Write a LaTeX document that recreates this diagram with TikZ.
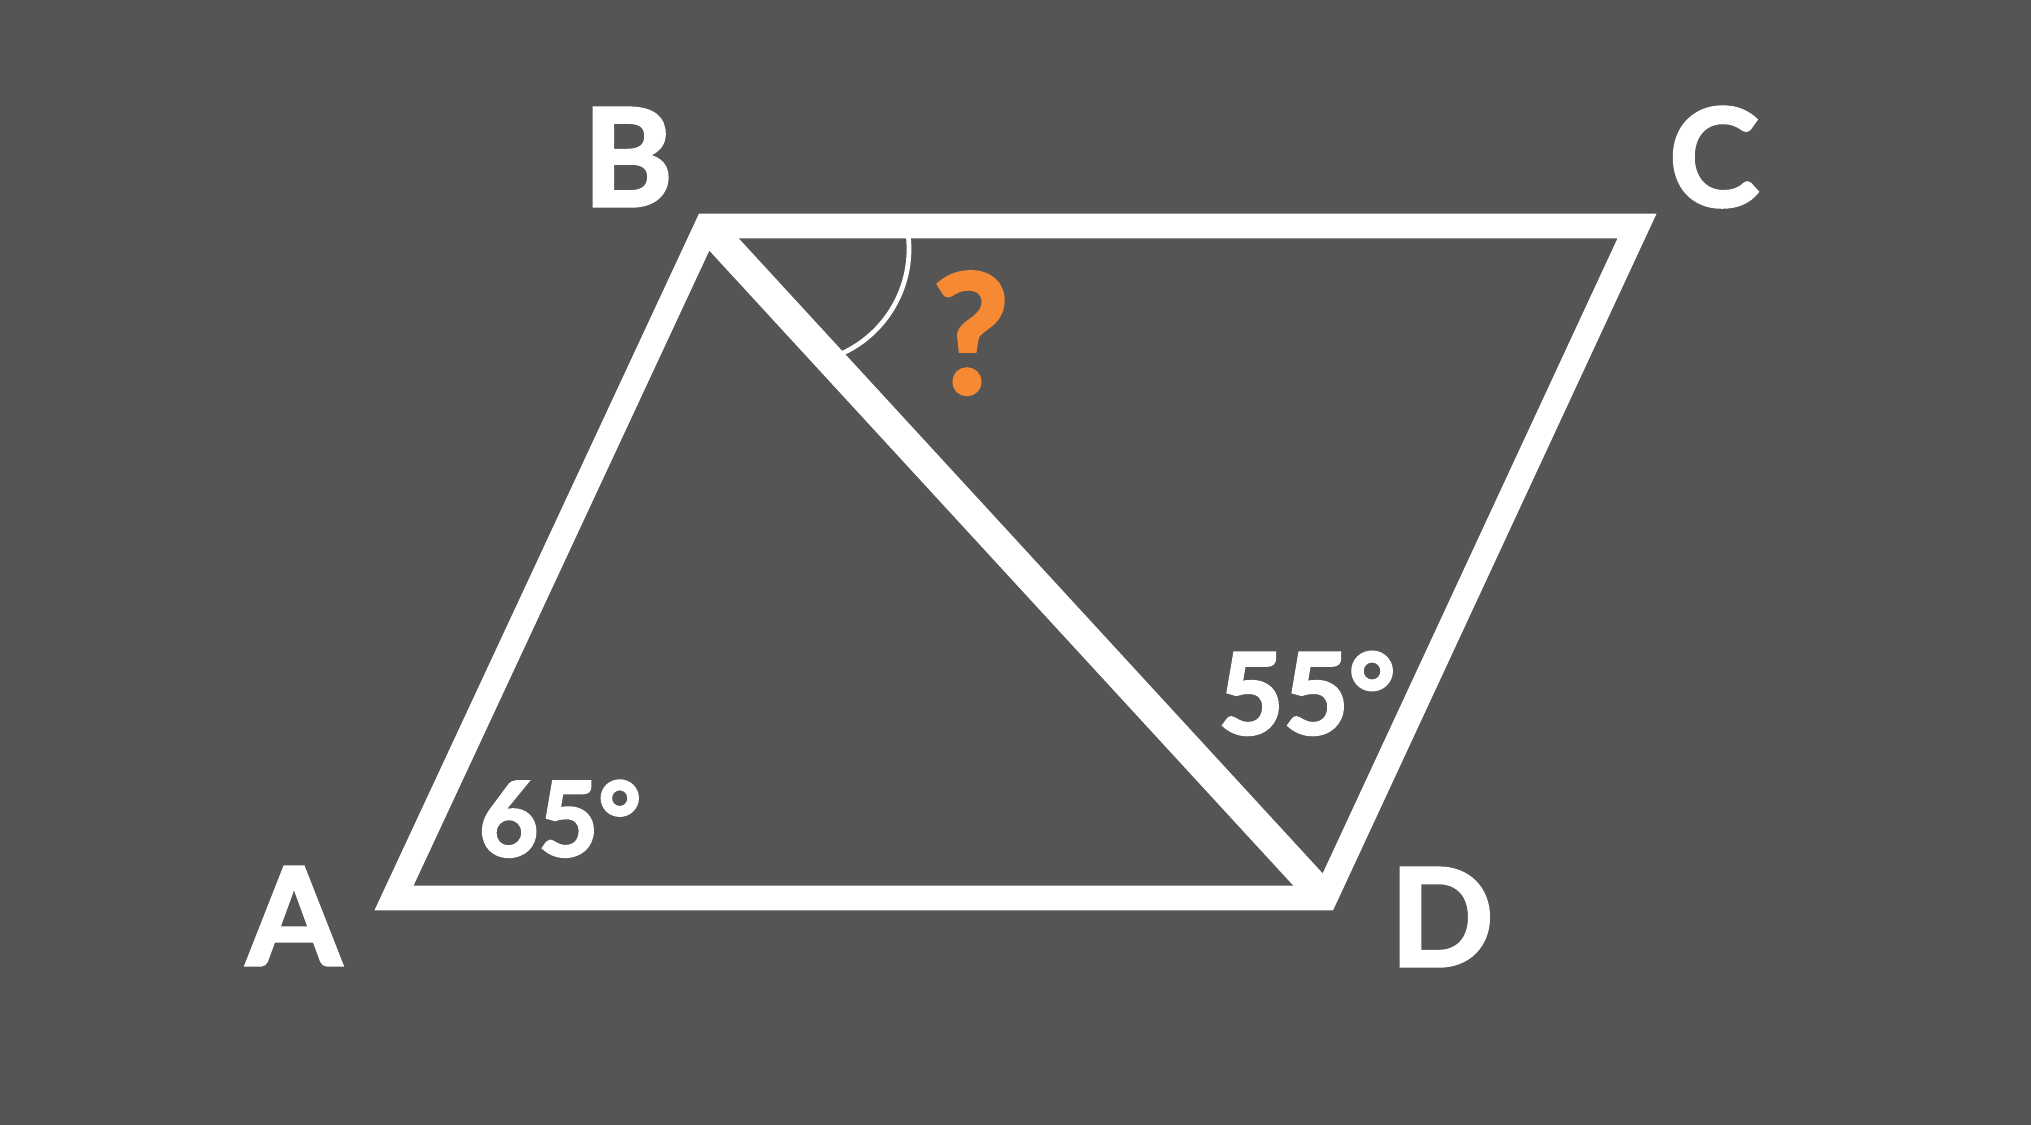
\documentclass[tikz,border=0pt]{standalone}
\usepackage{fontspec}
\setmainfont{Lato}[BoldFeatures={FakeBold=2.5}]
\definecolor{bggray}{RGB}{85,85,85}
\definecolor{qorange}{RGB}{245,137,52}
\begin{document}
\begin{tikzpicture}[x=0.01cm,y=-0.01cm,
  edge/.style={draw=white,line width=7.1pt,line join=miter},
  diag/.style={draw=white,line width=8.5pt,line cap=butt},
  anglearc/.style={draw=white,line width=1.35pt},
  vlabel/.style={text=white,font=\fontsize{38.5}{42}\selectfont\bfseries,anchor=base,inner sep=0pt},
  alabel/.style={text=white,font=\fontsize{29.3}{33}\selectfont\bfseries,anchor=base,inner sep=0pt},
  qlabel/.style={text=qorange,font=\fontsize{47}{50}\selectfont\bfseries,anchor=base,inner sep=0pt}]
\fill[bggray] (0,0) rectangle (2031,1125);
\useasboundingbox (0,0) rectangle (2031,1125);
\coordinate (A) at (394,898);
\coordinate (B) at (707,226);
\coordinate (C) at (1637,226);
\coordinate (D) at (1325,898);
\coordinate (O) at (794,249);
% angle arc at B
\draw[anglearc] plot[domain=-15:70,samples=60,smooth] ({794+115*cos(\x)},{249+115*sin(\x)});
% diagonal
\draw[diag] (B) -- (D);
% parallelogram
\draw[edge] (A) -- (B) -- (C) -- (D) -- cycle;
% labels
\node[vlabel] (lA) at (294,965) {A};
\node[vlabel] (lB) at (628,206) {B};
\node[vlabel] (lC) at (1714,206) {C};
\node[vlabel] (lD) at (1442,966) {D};
\node[alabel] (a65) at (560,856) {65°};
\node[alabel,font=\fontsize{31.9}{35}\selectfont\bfseries] (a55) at (1307,734) {55°};
\node[qlabel] (q) at (971,393) {?};
\end{tikzpicture}
\end{document}
